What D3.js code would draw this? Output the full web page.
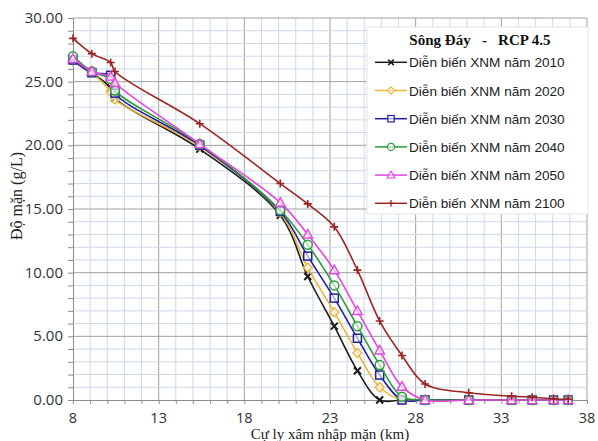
<!DOCTYPE html>
<html>
<head>
<meta charset="utf-8">
<script src="https://cdn.jsdelivr.net/npm/d3@7"></script>
<style>
  body { margin: 0; background: #fff; }
  svg { display: block; }
</style>
</head>
<body>
<div id="chart"></div>
<script>
  // distances along the river (km)
  var distances = [8, 9.1, 10.2, 10.45, 15.4, 20.1, 21.7, 23.25, 24.6, 25.9, 27.2, 28.55, 31.1, 33.6, 34.8, 36.05, 36.9];

  var salt2010 = [26.7, 25.7, 24.5, 23.7, 19.7, 14.5, 9.7, 5.8, 2.3, 0, 0, 0, 0, 0, 0, 0, 0];
  var salt2020 = [26.6, 25.7, 24.2, 23.6, 19.9, 14.7, 10.4, 6.9, 3.7, 1.0, 0, 0, 0, 0, 0, 0, 0];
  var salt2030 = [26.7, 25.7, 25.5, 24.1, 20.0, 14.8, 11.3, 8.0, 4.85, 1.96, 0, 0, 0, 0, 0, 0, 0];
  var salt2040 = [27.0, 25.8, 25.2, 24.3, 20.1, 14.9, 12.2, 9.0, 5.8, 2.75, 0.26, 0, 0, 0, 0, 0, 0];
  var salt2050 = [26.8, 25.8, 25.4, 24.9, 20.1, 15.5, 13.0, 10.2, 7.0, 3.9, 1.05, 0, 0, 0, 0, 0, 0];
  var salt2100 = [28.4, 27.2, 26.5, 25.8, 21.7, 17.0, 15.4, 13.6, 10.2, 6.2, 3.5, 1.26, 0.57, 0.3, 0.22, 0.08, 0.06];

  var seriesNames = ["Diễn biến XNM năm 2010", "Diễn biến XNM năm 2020", "Diễn biến XNM năm 2030",
                     "Diễn biến XNM năm 2040", "Diễn biến XNM năm 2050", "Diễn biến XNM năm 2100"];
  var xTicks = [8, 13, 18, 23, 28, 33, 38];
  var yTicks = [0, 5, 10, 15, 20, 25, 30];

  var legendTitle = "Sông Đáy   -   RCP 4.5";
  var xTitle = "Cự ly xâm nhập mặn (km)";
  var yTitle = "Độ mặn (g/L)";

  var allValues = [salt2010, salt2020, salt2030, salt2040, salt2050, salt2100];
  var colors = ["#1c1c1c", "#f0b43c", "#1f1f9e", "#2e9a3a", "#e445e0", "#9e2424"];
  var markers = ["x", "diamond", "square", "circle", "triangle", "plus"];

  var data = seriesNames.map(function(name, i) {
    return {
      name: name,
      color: colors[i],
      marker: markers[i],
      values: distances.map(function(d, j) { return {km: d, salt: allValues[i][j]}; })
    };
  });

  var W = 598, H = 441;
  var plotLeft = 73, plotRight = 587, plotTop = 18, plotBottom = 400;

  var xScale = d3.scaleLinear().domain([8, 38]).range([plotLeft, plotRight]);
  var yScale = d3.scaleLinear().domain([0, 30]).range([plotBottom, plotTop]);

  var svg = d3.select("#chart").append("svg")
    .attr("width", W)
    .attr("height", H);

  /* grid */
  var grid = svg.append("g");
  grid.selectAll(".vminor")
    .data(d3.range(9, 39)).enter()
    .append("line")
    .attr("x1", d => xScale(d)).attr("x2", d => xScale(d))
    .attr("y1", plotTop).attr("y2", plotBottom)
    .attr("stroke", d => (d - 8) % 5 === 0 ? "#a0a0a0" : "#cdd8e8")
    .attr("stroke-width", 1);
  grid.selectAll(".hminor")
    .data(d3.range(1, 31)).enter()
    .append("line")
    .attr("x1", plotLeft).attr("x2", plotRight)
    .attr("y1", d => yScale(d)).attr("y2", d => yScale(d))
    .attr("stroke", d => d % 5 === 0 ? "#a0a0a0" : "#cdd8e8")
    .attr("stroke-width", 1);

  /* axes */
  var xAxis = d3.axisBottom(xScale).tickValues(d3.range(8, 39)).tickSize(4).tickFormat("");
  var yAxis = d3.axisLeft(yScale).tickValues(d3.range(0, 31)).tickSize(5).tickFormat("");

  var gx = svg.append("g").attr("transform", `translate(0, ${plotBottom})`).call(xAxis);
  var gy = svg.append("g").attr("transform", `translate(${plotLeft}, 0)`).call(yAxis);
  [gx, gy].forEach(function(g) {
    g.select(".domain").attr("stroke", "#8c8c8c");
    g.selectAll(".tick line").attr("stroke", "#8c8c8c");
  });

  svg.append("g").selectAll("text")
    .data(xTicks).enter()
    .append("text")
    .attr("x", d => xScale(d))
    .attr("y", 423)
    .attr("text-anchor", "middle")
    .style("font-family", "'Open Sans', sans-serif")
    .style("font-size", "14.5px")
    .attr("fill", "#333")
    .text(d => d);

  svg.append("g").selectAll("text")
    .data(yTicks).enter()
    .append("text")
    .attr("x", 63)
    .attr("y", d => yScale(d) + 5)
    .attr("text-anchor", "end")
    .style("font-family", "'Open Sans', sans-serif")
    .style("font-size", "15px")
    .attr("fill", "#333")
    .text(d => d.toFixed(2));

  svg.append("text")
    .attr("x", 330)
    .attr("y", 439)
    .attr("text-anchor", "middle")
    .style("font-family", "'Liberation Serif', serif")
    .style("font-size", "15px")
    .attr("fill", "#222")
    .text(xTitle);

  svg.append("text")
    .attr("transform", "translate(22, 196) rotate(-90)")
    .attr("text-anchor", "middle")
    .style("font-family", "'Liberation Serif', serif")
    .style("font-size", "16px")
    .attr("fill", "#222")
    .text(yTitle);

  /* markers */
  function drawMarker(g, type, color) {
    if (type === "x") {
      g.append("path").attr("d", "M-3.5,-3.5L3.5,3.5M-3.5,3.5L3.5,-3.5")
        .attr("stroke", color).attr("stroke-width", 2).attr("fill", "none");
    } else if (type === "plus") {
      g.append("path").attr("d", "M-4,0L4,0M0,-4L0,4")
        .attr("stroke", color).attr("stroke-width", 1.6).attr("fill", "none");
    } else if (type === "diamond") {
      g.append("path").attr("d", "M0,-4.5L4.5,0L0,4.5L-4.5,0Z")
        .attr("stroke", color).attr("stroke-width", 1.4).attr("fill", "#fff").attr("fill-opacity", 0.6);
    } else if (type === "square") {
      g.append("rect").attr("x", -4).attr("y", -4).attr("width", 8).attr("height", 8)
        .attr("stroke", color).attr("stroke-width", 1.5).attr("fill", "#fff").attr("fill-opacity", 0.6);
    } else if (type === "circle") {
      g.append("circle").attr("r", 4.5)
        .attr("stroke", color).attr("stroke-width", 1.5).attr("fill", "#fff").attr("fill-opacity", 0.6);
    } else if (type === "triangle") {
      g.append("path").attr("d", "M0,-5L4.8,3.6L-4.8,3.6Z")
        .attr("stroke", color).attr("stroke-width", 1.4).attr("fill", "#fff").attr("fill-opacity", 0.6);
    }
  }

  /* lines */
  var line = d3.line()
    .curve(d3.curveCatmullRom.alpha(0.5))
    .x(d => xScale(d.km))
    .y(d => yScale(d.salt));

  var groups = svg.append("g").selectAll(".series")
    .data(data).enter()
    .append("g")
    .attr("class", "series");

  groups.append("path")
    .attr("d", d => line(d.values))
    .attr("fill", "none")
    .attr("stroke", d => d.color)
    .attr("stroke-width", 1.6);

  groups.each(function(s) {
    var g = d3.select(this);
    s.values.forEach(function(v) {
      var m = g.append("g").attr("transform", `translate(${xScale(v.km)}, ${yScale(v.salt)})`);
      drawMarker(m, s.marker, s.color);
    });
  });

  /* legend */
  var legend = svg.append("g");
  legend.append("rect")
    .attr("x", 367).attr("y", 27)
    .attr("width", 221).attr("height", 187)
    .attr("fill", "#fff")
    .attr("stroke", "#e4e4e4");

  legend.append("text")
    .attr("x", 480).attr("y", 45)
    .attr("text-anchor", "middle")
    .style("font-family", "'Liberation Serif', serif")
    .style("font-size", "15px")
    .style("font-weight", "bold")
    .style("white-space", "pre")
    .attr("fill", "#111")
    .text(legendTitle);

  var items = legend.selectAll(".item")
    .data(data).enter()
    .append("g")
    .attr("transform", (d, i) => `translate(0, ${62.3 + i * 28.2})`);

  items.append("line")
    .attr("x1", 375).attr("x2", 407)
    .attr("stroke", d => d.color)
    .attr("stroke-width", 1.5);

  items.each(function(s) {
    var m = d3.select(this).append("g").attr("transform", "translate(391, 0) scale(0.8)");
    drawMarker(m, s.marker, s.color);
  });

  items.append("text")
    .attr("x", 409).attr("y", 5)
    .style("font-family", "'Liberation Sans', Arial, sans-serif")
    .style("font-size", "13.6px")
    .attr("fill", "#222")
    .text(d => d.name);
</script>
</body>
</html>
